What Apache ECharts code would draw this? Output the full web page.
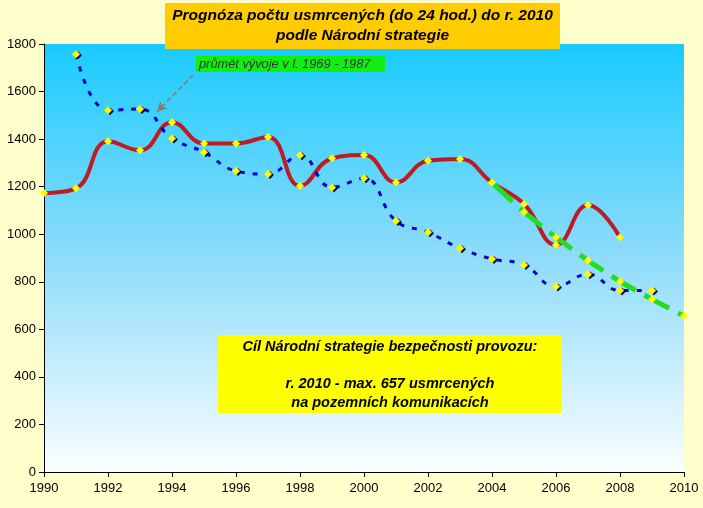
<!DOCTYPE html>
<html>
<head>
<meta charset="utf-8">
<script src="https://cdn.jsdelivr.net/npm/echarts@6/dist/echarts.min.js"></script>
<style>
html,body{margin:0;padding:0;background:#ffffcc;}
#chart{width:703px;height:508px;}
</style>
</head>
<body>
<div id="chart"></div>
<script>
// ---- data ----
var xTicks = [1990, 1992, 1994, 1996, 1998, 2000, 2002, 2004, 2006, 2008, 2010];
var yTicks = [0, 200, 400, 600, 800, 1000, 1200, 1400, 1600, 1800];

var actualYears = [1990,1991,1992,1993,1994,1995,1996,1997,1998,1999,2000,2001,2002,2003,2004,2005,2006,2007,2008];
var actualValues = [1173,1193,1391,1353,1471,1382,1382,1409,1203,1319,1333,1218,1309,1316,1217,1127,955,1123,987];

var trendYears = [1991,1992,1993,1994,1995,1996,1997,1998,1999,2000,2001,2002,2003,2004,2005,2006,2007,2008,2009];
var trendValues = [1757,1521,1527,1403,1345,1266,1253,1332,1197,1235,1056,1008,941,896,871,780,832,763,763];

var targetYears = [2004,2005,2006,2007,2008,2009,2010];
var targetValues = [1217,1093,987,889,801,726,656];

var titleLines = ['Prognóza počtu usmrcených (do 24 hod.) do r. 2010', 'podle Národní strategie'];
var noteText = 'průmět vývoje v l. 1969 - 1987';
var goalLines = ['Cíl Národní strategie bezpečnosti provozu:', '', 'r. 2010 - max. 657 usmrcených', 'na pozemních komunikacích'];

function pairs(xs, ys) { return xs.map(function (x, i) { return [x, ys[i]]; }); }

var FONT = '"Liberation Sans", Arial, sans-serif';
var chart = echarts.init(document.getElementById('chart'));

var option = {
  backgroundColor: '#ffffcc',
  animation: false,
  grid: {
    left: 44, right: 19, top: 44, bottom: 36,
    show: true, borderWidth: 0,
    backgroundColor: new echarts.graphic.LinearGradient(0, 0, 0, 1, [
      { offset: 0, color: '#19cbff' },
      { offset: 0.5, color: '#8fdcfa' },
      { offset: 1, color: '#fbfeff' }
    ])
  },
  xAxis: {
    type: 'value', min: xTicks[0], max: xTicks[xTicks.length - 1], interval: 2,
    axisLine: { show: true, lineStyle: { color: '#000', width: 1 } },
    axisTick: { show: true, length: 5, lineStyle: { color: '#000' } },
    splitLine: { show: false },
    axisLabel: { color: '#000', fontSize: 13, fontFamily: FONT, margin: 10,
      formatter: function (v) { return String(v); } }
  },
  yAxis: {
    type: 'value', min: yTicks[0], max: yTicks[yTicks.length - 1], interval: 200,
    axisLine: { show: true, lineStyle: { color: '#000', width: 1 } },
    axisTick: { show: true, length: 5, lineStyle: { color: '#000' } },
    splitLine: { show: false },
    axisLabel: { color: '#000', fontSize: 13, fontFamily: FONT, margin: 8,
      formatter: function (v) { return String(v); } }
  },
  series: [
    {
      name: 'skutečnost', type: 'line', smooth: 0.45, z: 2,
      data: pairs(actualYears, actualValues),
      lineStyle: { color: '#bd1c24', width: 4 },
      symbol: 'diamond', symbolSize: 8,
      itemStyle: { color: '#ffff00', borderWidth: 0 }
    },
    {
      name: 'průmět', type: 'line', smooth: 0.45, z: 3,
      data: pairs(trendYears, trendValues),
      lineStyle: { color: '#0000c8', width: 3, type: [5, 8] },
      symbol: 'diamond', symbolSize: 8,
      itemStyle: { color: '#ffff00', borderWidth: 0, shadowColor: 'rgba(0,0,40,0.9)', shadowOffsetX: 2, shadowOffsetY: 1, shadowBlur: 0 },
      markLine: {
        silent: true, animation: false,
        symbol: ['none', 'arrow'], symbolSize: [8, 10],
        label: { show: false },
        lineStyle: { color: '#8a7a70', width: 1.5, type: [5, 3] },
        data: [[ { coord: [1994.66, 1670] }, { coord: [1993.53, 1515] } ]]
      }
    },
    {
      name: 'cíl', type: 'line', smooth: false, z: 4,
      data: pairs(targetYears, targetValues),
      lineStyle: { color: '#22dd22', width: 5, type: [28, 10] },
      symbol: 'diamond', symbolSize: 8,
      itemStyle: { color: '#ffff00', borderWidth: 0 }
    }
  ],
  graphic: [
    { type: 'rect', z: 100, shape: { x: 165, y: 3, width: 395, height: 46 }, style: { fill: '#ffcc00' } },
    { type: 'text', z: 101, x: 362.5, y: 16, style: { text: titleLines[0], fill: '#000', font: 'italic bold 15.5px ' + FONT, textAlign: 'center', textVerticalAlign: 'middle' } },
    { type: 'text', z: 101, x: 362.5, y: 36, style: { text: titleLines[1], fill: '#000', font: 'italic bold 15.5px ' + FONT, textAlign: 'center', textVerticalAlign: 'middle' } },

    { type: 'rect', z: 100, shape: { x: 196, y: 56, width: 189, height: 16 }, style: { fill: '#11ee11' } },
    { type: 'text', z: 101, x: 199, y: 64.5, style: { text: noteText, fill: '#333', font: 'italic 12.8px ' + FONT, textAlign: 'left', textVerticalAlign: 'middle' } },

    { type: 'rect', z: 100, shape: { x: 218, y: 335, width: 344, height: 78 }, style: { fill: '#ffff00' } },
    { type: 'text', z: 101, x: 390, y: 347, style: { text: goalLines[0], fill: '#000', font: 'italic bold 14.5px ' + FONT, textAlign: 'center', textVerticalAlign: 'middle' } },
    { type: 'text', z: 101, x: 390, y: 384, style: { text: goalLines[2], fill: '#000', font: 'italic bold 14.5px ' + FONT, textAlign: 'center', textVerticalAlign: 'middle' } },
    { type: 'text', z: 101, x: 390, y: 403, style: { text: goalLines[3], fill: '#000', font: 'italic bold 14.5px ' + FONT, textAlign: 'center', textVerticalAlign: 'middle' } }
  ]
};
chart.setOption(option);
</script>
</body>
</html>
